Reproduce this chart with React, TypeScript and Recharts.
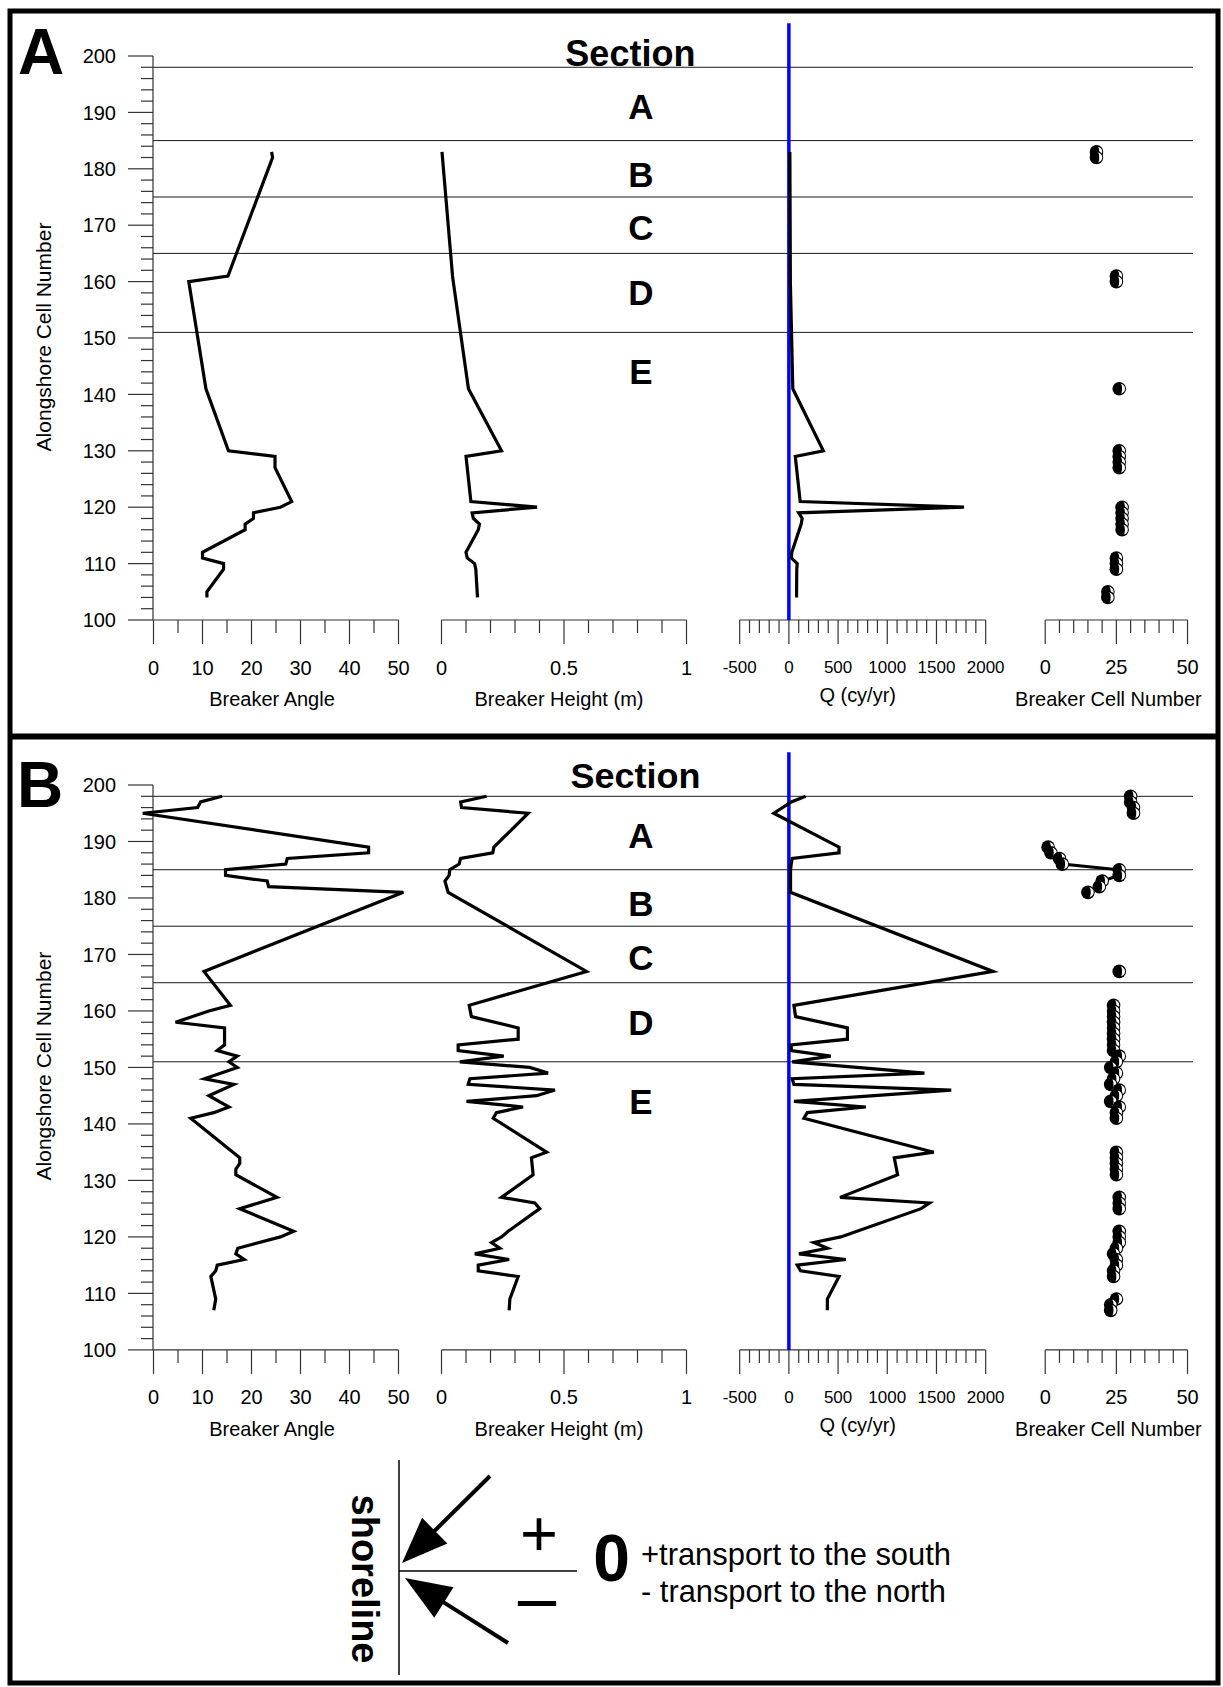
import React from "react";
import { ScatterChart, Scatter, XAxis, YAxis, ReferenceLine, ReferenceDot } from "recharts";

const FONT = "'Liberation Sans', Arial, Helvetica, sans-serif";
const AXIS = "#333";

// shoreline sections (cell numbers of the boundaries) and their names
const sectionBounds = [198, 185, 175, 165, 151];
const sectionNames = ["A", "B", "C", "D", "E"];

// alongshore cell number axis
const cellTicks = [100, 102, 104, 106, 108, 110, 112, 114, 116, 118, 120, 122, 124, 126, 128, 130, 132, 134, 136, 138, 140, 142, 144, 146, 148, 150, 152, 154, 156, 158, 160, 162, 164, 166, 168, 170, 172, 174, 176, 178, 180, 182, 184, 186, 188, 190, 192, 194, 196, 198, 200];
const cellLabels = [100, 110, 120, 130, 140, 150, 160, 170, 180, 190, 200];

// x axes
const angleTicks = [0, 5, 10, 15, 20, 25, 30, 35, 40, 45, 50];
const angleLabels = [0, 10, 20, 30, 40, 50];
const heightTicks = [0, 0.1, 0.2, 0.3, 0.4, 0.5, 0.6, 0.7, 0.8, 0.9, 1];
const heightLabels = [0, 0.5, 1];
const qTicks = [-500, -400, -300, -200, -100, 0, 100, 200, 300, 400, 500, 600, 700, 800, 900, 1000, 1100, 1200, 1300, 1400, 1500, 1600, 1700, 1800, 1900, 2000];
const qLabels = [-500, 0, 500, 1000, 1500, 2000];
const breakTicks = [0, 5, 10, 15, 20, 25, 30, 35, 40, 45, 50];
const breakLabels = [0, 25, 50];

// ---------- panel A ----------
const angleCellsA = [183, 182, 161, 160, 141, 130, 129, 127, 121, 120, 119, 118, 117, 116, 112, 111, 110, 109, 105, 104];
const angleA = [24.1, 24.3, 15.2, 7.2, 10.7, 15.3, 24.8, 24.8, 28.2, 25.9, 20.4, 20.4, 18.7, 18.7, 10, 10, 14.3, 14.3, 10.9, 10.9];
const heightCellsA = [183, 161, 160, 141, 130, 129, 121, 120, 119, 118, 117, 116, 112, 111, 110, 109, 104];
const heightA = [0.002, 0.045, 0.048, 0.11, 0.245, 0.1, 0.12, 0.39, 0.125, 0.13, 0.155, 0.15, 0.1, 0.105, 0.135, 0.14, 0.147];
const qCellsA = [183, 161, 160, 141, 130, 129, 121, 120, 119, 118, 117, 112, 111, 110, 109, 104];
const qA = [10, 15, 15, 40, 350, 65, 115, 1780, 100, 135, 125, 30, 25, 85, 80, 78];
const breakCellsA = [183, 182, 161, 160, 141, 130, 129, 128, 127, 120, 119, 118, 117, 116, 111, 110, 109, 105, 104];
const breakA = [18, 18, 25, 25, 26, 26, 26, 26, 26, 27, 27, 27, 27, 27, 25, 25, 25, 22, 22];

// ---------- panel B ----------
const angleCellsB = [198, 197, 196, 195, 189, 188, 187, 186, 185, 184, 183, 182, 181, 167, 161, 160, 158, 157, 154, 153, 152, 151, 150, 148, 147, 145, 143, 142, 141, 134, 133, 132, 131, 127, 125, 121, 120, 118, 117, 116, 115, 114, 113, 109, 107];
const angleB = [14.0, 9.6, 9.0, -2.2, 43.9, 43.9, 27.3, 27.0, 14.7, 14.7, 23.2, 23.5, 51.0, 10.3, 15.7, 11.3, 4.5, 14.5, 14.5, 13.0, 17.1, 15.4, 17.1, 10.4, 16.4, 11.3, 15.4, 12.3, 7.6, 17.6, 17.6, 16.8, 16.8, 25.2, 17.6, 28.6, 25.9, 17.2, 16.8, 18.5, 13.0, 12.7, 11.7, 12.7, 12.3];
const heightCellsB = [198, 197, 196, 195, 189, 188, 187, 186, 185, 184, 183, 181, 167, 161, 159, 157, 155, 154, 153, 152, 151, 150, 149, 148, 147, 146, 145, 144, 143, 142, 141, 135, 134, 131, 127, 126, 125, 121, 120, 119, 118, 117, 116, 115, 114, 113, 109, 107];
const heightB = [0.184, 0.078, 0.082, 0.354, 0.214, 0.209, 0.078, 0.072, 0.034, 0.031, 0.014, 0.027, 0.592, 0.113, 0.122, 0.313, 0.313, 0.068, 0.068, 0.254, 0.075, 0.36, 0.435, 0.116, 0.109, 0.463, 0.388, 0.102, 0.333, 0.224, 0.211, 0.429, 0.367, 0.374, 0.245, 0.381, 0.401, 0.272, 0.245, 0.204, 0.238, 0.136, 0.276, 0.15, 0.15, 0.313, 0.279, 0.276];
const qCellsB = [198, 197, 195, 189, 188, 187, 186, 185, 181, 167, 161, 159, 157, 155, 154, 153, 152, 151, 149, 148, 147, 146, 144, 143, 142, 141, 135, 134, 131, 127, 126, 125, 120, 119, 118, 117, 116, 115, 114, 113, 109, 107];
const qB = [170, 24, -153, 510, 510, 34, 24, 17, 17, 2075, 51, 68, 595, 595, 24, 24, 425, 34, 1378, 34, 51, 1650, 51, 782, 187, 153, 1473, 1071, 1105, 520, 1429, 1344, 527, 255, 391, 102, 578, 85, 119, 510, 391, 391];
const breakCellsB = [198, 197, 196, 195, 189, 188, 187, 186, 185, 184, 183, 182, 181, 167, 161, 160, 159, 158, 157, 156, 155, 154, 153, 152, 151, 150, 149, 148, 147, 146, 145, 144, 143, 142, 141, 135, 134, 133, 132, 131, 127, 126, 125, 121, 120, 119, 118, 117, 116, 115, 114, 113, 109, 108, 107];
const breakB = [30, 30, 31, 31, 1, 2, 5, 6, 26, 26, 20, 19, 15, 26, 24, 24, 24, 24, 24, 24, 24, 24, 24, 26, 25, 23, 25, 24, 23, 26, 25, 23, 26, 25, 25, 25, 25, 25, 25, 25, 26, 26, 26, 26, 26, 26, 25, 24, 25, 25, 24, 24, 25, 23, 23];

type Pt = { cell: number; v: number };
const pts = (cells: number[], vals: number[]): Pt[] => cells.map((cell, i) => ({ cell, v: vals[i] }));

// split into runs of consecutive cells (the symbol series is broken at gaps)
const runs = (data: Pt[]): Pt[][] => {
  const out: Pt[][] = [];
  data.forEach((d) => {
    const last = out[out.length - 1];
    if (last && last[last.length - 1].cell - d.cell === 1) last.push(d);
    else out.push([d]);
  });
  return out;
};

const panels = [
  {
    name: "A", top: 56, bottom: 620, letterY: 73.5,
    sectionX: 0.459, sectionY: 200.45,
    angle: pts(angleCellsA, angleA), height: pts(heightCellsA, heightA),
    q: pts(qCellsA, qA), brk: pts(breakCellsA, breakA),
  },
  {
    name: "B", top: 784.6, bottom: 1349.5, letterY: 806.7,
    sectionX: 0.464, sectionY: 201.7,
    angle: pts(angleCellsB, angleB), height: pts(heightCellsB, heightB),
    q: pts(qCellsB, qB), brk: pts(breakCellsB, breakB),
  },
];
type Panel = (typeof panels)[number];

const sectionLabelAt = [191, 179, 169.5, 158, 144];

type Sub = {
  axis: [number, number]; px: [number, number]; dom: [number, number];
  ticks: number[]; labels: number[]; fs: number; title: string; titleDx: number; titleDy: number;
};
const subAngle: Sub = { axis: [0, 50], px: [153, 398], dom: [-5, 55], ticks: angleTicks, labels: angleLabels, fs: 20, title: "Breaker Angle", titleDx: -4, titleDy: 86 };
const subHeight: Sub = { axis: [0, 1], px: [441.7, 686.7], dom: [-0.1, 1.1], ticks: heightTicks, labels: heightLabels, fs: 20, title: "Breaker Height (m)", titleDx: -5, titleDy: 86 };
const subQ: Sub = { axis: [-500, 2000], px: [740, 986], dom: [-700, 2300], ticks: qTicks, labels: qLabels, fs: 17, title: "Q (cy/yr)", titleDx: -5, titleDy: 82 };
const subBreak: Sub = { axis: [0, 50], px: [1045.7, 1188], dom: [-5, 55], ticks: breakTicks, labels: breakLabels, fs: 20, title: "Breaker Cell Number", titleDx: -8, titleDy: 86 };

const LINE = { stroke: "#000", strokeWidth: 3.2 };
const NoDot = () => <g />;

const CellDot = (p: any) => {
  const { cx, cy } = p;
  if (cx == null || cy == null) return <g />;
  return (
    <g>
      <circle cx={cx} cy={cy} r={6.8} fill="#000" />
      <path d={`M${cx + 0.8},${cy - 5} A5,5 0 0 1 ${cx + 0.8},${cy + 5} A2,5 0 0 0 ${cx + 0.8},${cy - 5} Z`} fill="#fff" />
    </g>
  );
};

const YTick = (p: any) => {
  const { x, y, payload } = p;
  const major = cellLabels.includes(payload.value);
  return (
    <g>
      <line x1={x - (major ? 25 : 12)} x2={x} y1={y} y2={y} stroke={AXIS} strokeWidth={1.2} />
      {major && (
        <text x={x - 37} y={y} dy="0.36em" textAnchor="end" fontSize={20} fontFamily={FONT} fill="#000">
          {payload.value}
        </text>
      )}
    </g>
  );
};

const makeXTick = (s: Sub) => (p: any) => {
  const { x, y, payload } = p;
  const v = payload.value as number;
  const major = s.labels.some((l) => Math.abs(l - v) < 1e-9);
  return (
    <g>
      <line x1={x} x2={x} y1={y} y2={y + (major ? 24 : 13)} stroke={AXIS} strokeWidth={1.2} />
      {major && (
        <text x={x} y={y + (s.fs < 20 ? 53 : 54.5)} textAnchor="middle" fontSize={s.fs} fontFamily={FONT} fill="#000">
          {String(v)}
        </text>
      )}
    </g>
  );
};

function Subplot({ s, p, children }: { s: Sub; p: Panel; children: React.ReactNode }) {
  const k = (s.px[1] - s.px[0]) / (s.axis[1] - s.axis[0]);
  const plotLeft = s.px[0] - (s.axis[0] - s.dom[0]) * k;
  const plotW = (s.dom[1] - s.dom[0]) * k;
  const padL = 20, padR = 20, padT = 40, xh = 100;
  const plotH = p.bottom - p.top;
  const left = plotLeft - padL;
  const titleX = (s.px[0] + s.px[1]) / 2 + s.titleDx - left;
  const titleY = padT + plotH + s.titleDy;
  return (
    <div style={{ position: "absolute", left, top: p.top - padT }}>
      <ScatterChart width={plotW + padL + padR} height={padT + plotH + xh} margin={{ top: padT, right: padR, bottom: 0, left: padL }}>
        <XAxis
          type="number" dataKey="v" domain={s.dom} allowDataOverflow ticks={s.ticks} interval={0}
          tickSize={0} tickMargin={0} tickLine={false} axisLine={false} height={xh} tick={makeXTick(s)}
          label={{
            content: () => (
              <text x={titleX} y={titleY} textAnchor="middle" fontSize={20} fontFamily={FONT} fill="#000">
                {s.title}
              </text>
            ),
          }}
        />
        <YAxis type="number" dataKey="cell" domain={[100, 200]} allowDataOverflow hide />
        <ReferenceLine segment={[{ x: s.axis[0], y: 100 }, { x: s.axis[1], y: 100 }]} stroke={AXIS} strokeWidth={1.2} ifOverflow="visible" />
        {children}
      </ScatterChart>
    </div>
  );
}

function Background({ p }: { p: Panel }) {
  const padT = 40;
  const plotH = p.bottom - p.top;
  return (
    <div style={{ position: "absolute", left: 0, top: p.top - padT }}>
      <ScatterChart width={1203} height={padT + plotH + 10} margin={{ top: padT, right: 10, bottom: 10, left: 93 }}>
        <XAxis type="number" dataKey="x" domain={[0, 1]} allowDataOverflow hide />
        <YAxis
          type="number" dataKey="cell" domain={[100, 200]} allowDataOverflow ticks={cellTicks} interval={0}
          width={60} tickSize={0} tickMargin={0} tickLine={false} axisLine={{ stroke: AXIS, strokeWidth: 1.2 }} tick={YTick}
        />
        {sectionBounds.map((b) => (
          <ReferenceLine key={b} y={b} stroke="#1a1a1a" strokeWidth={1} ifOverflow="visible" />
        ))}
        <ReferenceDot
          x={p.sectionX} y={p.sectionY} r={0} fill="none" stroke="none" ifOverflow="visible"
          label={{ value: "Section", position: "center", fontSize: 36, fontWeight: 700, fill: "#000", fontFamily: FONT }}
        />
        {sectionNames.map((n, i) => (
          <ReferenceDot
            key={n} x={0.4692} y={sectionLabelAt[i]} r={0} fill="none" stroke="none" ifOverflow="visible"
            label={{ value: n, position: "center", fontSize: 35, fontWeight: 700, fill: "#000", fontFamily: FONT }}
          />
        ))}
      </ScatterChart>
    </div>
  );
}

function PanelView({ p }: { p: Panel }) {
  return (
    <>
      <Background p={p} />
      <Subplot s={subAngle} p={p}>
        <Scatter data={p.angle} line={LINE} shape={NoDot} isAnimationActive={false} />
      </Subplot>
      <Subplot s={subHeight} p={p}>
        <Scatter data={p.height} line={LINE} shape={NoDot} isAnimationActive={false} />
      </Subplot>
      <Subplot s={subQ} p={p}>
        <Scatter data={p.q} line={LINE} shape={NoDot} isAnimationActive={false} />
        <ReferenceLine segment={[{ x: 0, y: 100 }, { x: 0, y: 205.8 }]} stroke="#0000ff" strokeWidth={3.5} ifOverflow="visible" />
      </Subplot>
      <Subplot s={subBreak} p={p}>
        {runs(p.brk).map((r, i) => (
          <Scatter key={i} data={r} line={{ stroke: "#000", strokeWidth: 3 }} shape={CellDot} isAnimationActive={false} />
        ))}
      </Subplot>
    </>
  );
}

function Arrow({ x1, y1, x2, y2 }: { x1: number; y1: number; x2: number; y2: number }) {
  const dx = x2 - x1, dy = y2 - y1;
  const len = Math.hypot(dx, dy);
  const ux = dx / len, uy = dy / len;
  const hl = 46, hw = 18;
  const bx = x2 - ux * hl, by = y2 - uy * hl;
  return (
    <g>
      <line x1={x1} y1={y1} x2={bx + ux * 4} y2={by + uy * 4} stroke="#000" strokeWidth={4} />
      <polygon points={`${x2},${y2} ${bx - uy * hw},${by + ux * hw} ${bx + uy * hw},${by - ux * hw}`} fill="#000" />
    </g>
  );
}

function Overlay() {
  return (
    <svg width={1223} height={1687} style={{ position: "absolute", left: 0, top: 0, pointerEvents: "none" }}>
      <rect x={10} y={11} width={1208} height={1672} fill="none" stroke="#000" strokeWidth={5} />
      <line x1={10} x2={1218} y1={736.5} y2={736.5} stroke="#000" strokeWidth={6} />
      {panels.map((p) => (
        <g key={p.name}>
          <text x={p.name === "A" ? 18 : 17} y={p.letterY} fontSize={64} fontWeight={700} fontFamily={FONT} fill="#000">
            {p.name}
          </text>
          <text
            transform={`translate(44, ${(p.top + p.bottom) / 2 - 1}) rotate(-90)`}
            textAnchor="middle" dy="0.35em" fontSize={21} fontFamily={FONT} fill="#000"
          >
            Alongshore Cell Number
          </text>
        </g>
      ))}
      {/* sign convention sketch */}
      <line x1={399} x2={399} y1={1460} y2={1675} stroke="#000" strokeWidth={1.5} />
      <line x1={399} x2={577} y1={1571} y2={1571} stroke="#000" strokeWidth={1.5} />
      <Arrow x1={490} y1={1476} x2={402} y2={1563} />
      <Arrow x1={508} y1={1643} x2={405} y2={1578} />
      <text transform="translate(352, 1579) rotate(90)" textAnchor="middle" fontSize={38} fontWeight={700} fontFamily={FONT} fill="#000">
        shoreline
      </text>
      <text x={539} y={1556} textAnchor="middle" fontSize={64} fontFamily={FONT} fill="#000" textLength={38} lengthAdjust="spacingAndGlyphs">+</text>
      <text x={537} y={1617} textAnchor="middle" fontSize={50} fontWeight={700} fontFamily={FONT} fill="#000" textLength={43} lengthAdjust="spacingAndGlyphs">–</text>
      <text x={611.7} y={1581} textAnchor="middle" fontSize={66} fontWeight={700} fontFamily={FONT} fill="#000">0</text>
      <text x={641} y={1565} fontSize={32} fontFamily={FONT} fill="#000" textLength={310} lengthAdjust="spacingAndGlyphs">
        +transport to the south
      </text>
      <text x={641} y={1602} fontSize={32} fontFamily={FONT} fill="#000" textLength={305} lengthAdjust="spacingAndGlyphs">
        - transport to the north
      </text>
    </svg>
  );
}

export default function App() {
  return (
    <div style={{ position: "absolute", left: 0, top: 0, width: 1223, height: 1687, background: "#fff" }}>
      {panels.map((p) => (
        <PanelView key={p.name} p={p} />
      ))}
      <Overlay />
    </div>
  );
}
